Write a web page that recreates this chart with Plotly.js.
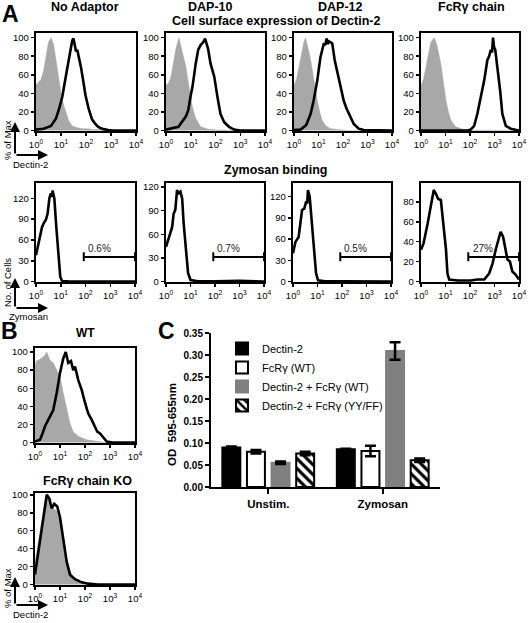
<!DOCTYPE html>
<html><head><meta charset="utf-8">
<script src="https://cdn.plot.ly/plotly-3.0.1.min.js"></script>
<style>body{margin:0;background:#fff;} #chart{width:528px;height:623px;}</style>
</head><body><div id="chart"></div>
<script>
// ---------- DATA (x in log10 units of fluorescence) ----------
var decadeTicks = [0, 1, 2, 3, 4];
var decadeLabels = ['10<sup>0</sup>', '10<sup>1</sup>', '10<sup>2</sup>', '10<sup>3</sup>', '10<sup>4</sup>'];

// Panel A, row 1: cell surface expression of Dectin-2 (% of Max)
var noAdGrayX = [0, 0.1, 0.2, 0.3, 0.4, 0.5, 0.6, 0.7, 0.8, 0.9, 1.0, 1.1, 1.2, 1.3, 1.45, 1.65, 1.85, 2.05, 2.3, 2.5, 2.7, 4];
var noAdGrayY = [49, 52, 55, 64, 80, 95, 100, 93, 76, 55, 40, 28, 18, 11, 5, 3, 2, 2, 1, 1, 0, 0];
var noAdBlackX = [0, 0.3, 0.6, 0.8, 0.92, 1.05, 1.19, 1.32, 1.4, 1.45, 1.5, 1.55, 1.6, 1.65, 1.72, 1.8, 1.88, 1.98, 2.1, 2.24, 2.35, 2.44, 2.55, 2.7, 2.9, 3.1, 4];
var noAdBlackY = [1, 2, 5, 13, 23, 36, 58, 79, 90, 97, 99, 92, 85, 87, 79, 68, 55, 38, 24, 12, 8, 5, 3, 1.5, 0.5, 0, 0];

var dap10GrayX = [0, 0.1, 0.2, 0.3, 0.4, 0.52, 0.6, 0.7, 0.8, 0.93, 1.07, 1.2, 1.4, 1.7, 2.1, 4];
var dap10GrayY = [49, 51, 58, 72, 88, 100, 92, 80, 69, 47, 25, 13, 4, 1.5, 0.5, 0];
var dap10BlackX = [0, 0.5, 0.8, 0.9, 1.0, 1.07, 1.2, 1.3, 1.4, 1.5, 1.58, 1.65, 1.7, 1.8, 1.95, 2.08, 2.2, 2.35, 2.55, 2.75, 3.0, 4];
var dap10BlackY = [1, 4, 15, 22, 38, 47, 72, 87, 92, 95, 99, 93, 88, 72, 58, 36, 18, 9, 4, 1, 0, 0];

var dap12GrayX = [0, 0.1, 0.2, 0.3, 0.4, 0.47, 0.55, 0.65, 0.75, 0.85, 0.95, 1.05, 1.15, 1.3, 1.5, 1.8, 2.2, 4];
var dap12GrayY = [49, 55, 68, 82, 95, 100, 92, 80, 65, 48, 32, 20, 11, 5, 2, 1, 0, 0];
var dap12BlackX = [0, 0.27, 0.5, 0.68, 0.8, 0.95, 1.08, 1.15, 1.22, 1.28, 1.33, 1.38, 1.42, 1.5, 1.56, 1.66, 1.75, 1.83, 1.93, 2.03, 2.14, 2.24, 2.34, 2.44, 2.64, 2.85, 4];
var dap12BlackY = [0.5, 1, 6, 18, 32, 54, 79, 88, 94, 92, 99, 93, 96, 95, 94, 76, 65, 54, 42, 32, 24, 18, 12, 7, 2, 0.5, 0];

var fcrGrayX = [0, 0.1, 0.2, 0.3, 0.4, 0.54, 0.65, 0.81, 0.92, 1.02, 1.12, 1.22, 1.42, 1.7, 2.0, 4];
var fcrGrayY = [49, 55, 68, 82, 95, 100, 92, 72, 50, 32, 20, 11, 4, 1.5, 0.5, 0];
var fcrBlackX = [0, 1.9, 2.03, 2.17, 2.3, 2.44, 2.58, 2.71, 2.78, 2.85, 2.9, 2.94, 2.98, 3.03, 3.12, 3.23, 3.32, 3.46, 3.66, 3.85, 4];
var fcrBlackY = [0, 0, 1, 5, 18, 36, 54, 76, 80, 87, 84, 100, 90, 87, 69, 43, 18, 5, 2, 0.5, 0];

// Panel A, row 2: zymosan binding (No. of Cells)
var zymNoAdX = [0, 0.1, 0.17, 0.24, 0.31, 0.4, 0.47, 0.54, 0.6, 0.64, 0.67, 0.74, 0.82, 0.91, 0.98, 1.05, 1.3, 2.0, 2.8, 3.1, 3.3, 4];
var zymNoAdY = [38, 55, 68, 78, 84, 89, 98, 120, 127, 122, 131, 120, 79, 31, 7, 1, 0.5, 0.3, 0.5, 1, 0.3, 0];
var zymDap10X = [0, 0.1, 0.25, 0.31, 0.38, 0.45, 0.52, 0.59, 0.66, 0.72, 0.82, 0.9, 1.0, 1.3, 2.0, 3.0, 4];
var zymDap10Y = [44, 53, 69, 86, 91, 116, 112, 114, 105, 74, 32, 11, 2, 0.5, 0.5, 1, 0];
var zymDap12X = [0, 0.1, 0.23, 0.3, 0.37, 0.46, 0.54, 0.58, 0.61, 0.68, 0.75, 0.84, 0.94, 1.02, 1.3, 2.0, 3.0, 4];
var zymDap12Y = [40, 56, 63, 80, 101, 103, 113, 110, 129, 120, 92, 45, 12, 2, 0.5, 0.5, 0.5, 0];
var zymFcrX = [0, 0.1, 0.27, 0.4, 0.48, 0.52, 0.61, 0.7, 0.81, 0.92, 1.02, 1.08, 1.15, 1.5, 2.03, 2.3, 2.58, 2.78, 2.92, 3.05, 3.16, 3.25, 3.35, 3.43, 3.53, 3.63, 3.73, 3.86, 4];
var zymFcrY = [32, 38, 58, 78, 88, 92, 88, 83, 82, 58, 32, 8, 2, 1, 1, 2, 2, 8, 18, 32, 43, 50, 45, 35, 22, 20, 10, 7, 2];
var gateLabels = ['0.6%', '0.7%', '0.5%', '27%'];

// Panel B
var wtGrayX = [0, 0.05, 0.2, 0.35, 0.47, 0.6, 0.73, 0.87, 1.0, 1.13, 1.27, 1.4, 1.53, 1.73, 2.07, 2.47, 2.8, 4];
var wtGrayY = [84, 90, 92, 95, 100, 91, 88, 80, 73, 55, 36, 21, 12, 7, 3, 1, 0, 0];
var wtBlackX = [0, 0.2, 0.3, 0.4, 0.53, 0.73, 0.87, 1.0, 1.13, 1.23, 1.33, 1.44, 1.53, 1.6, 1.73, 1.87, 2.0, 2.13, 2.27, 2.4, 2.49, 2.6, 2.73, 2.87, 3.1, 4];
var wtBlackY = [1, 3, 10, 18, 25, 36, 55, 77, 93, 100, 88, 90, 80, 84, 69, 58, 44, 32, 25, 18, 12, 10, 5, 1, 0, 0];
var koGrayX = [0, 0.13, 0.27, 0.4, 0.47, 0.6, 0.73, 0.87, 1.0, 1.13, 1.27, 1.4, 1.53, 1.8, 2.2, 4];
var koGrayY = [25, 45, 70, 92, 99, 92, 85, 82, 71, 50, 29, 15, 8, 2.5, 0.5, 0];
var koBlackX = [0, 0.13, 0.27, 0.4, 0.47, 0.57, 0.67, 0.77, 0.89, 1.0, 1.13, 1.27, 1.4, 1.6, 1.87, 2.13, 2.5, 4];
var koBlackY = [11, 36, 64, 92, 100, 96, 85, 90, 87, 75, 50, 25, 11, 6, 2.5, 1, 0, 0];

// Panel C: OD 595-655nm
var cCategories = ['Unstim.', 'Zymosan'];
var cSeriesNames = ['Dectin-2', 'FcR\u03b3 (WT)', 'Dectin-2 + FcR\u03b3 (WT)', 'Dectin-2 + FcR\u03b3 (YY/FF)'];
var dectin2 = [0.090, 0.086];
var dectin2Err = [0.002, 0.001];
var fcrWT = [0.080, 0.082];
var fcrWTErr = [0.004, 0.012];
var dectinFcrWT = [0.055, 0.309];
var dectinFcrWTErr = [0.003, 0.020];
var dectinFcrYYFF = [0.076, 0.061];
var dectinFcrYYFFErr = [0.004, 0.004];

// ---------- LAYOUT HELPERS ----------
var W = 528, H = 623;
function dx(a, b) { return [a / W, b / W]; }
function dy(t, b) { return [1 - b / H, 1 - t / H]; }
function px(x) { return x / W; }
function py(y) { return 1 - y / H; }
var FONT = 'Liberation Sans, Arial, sans-serif';
var GRAY = '#a8a8a8';

var boxes = [
  {x: [36, 136], y: [33, 131], yr: [-0.5, 105], yt: [0, 20, 40, 60, 80, 100]},
  {x: [166, 265], y: [33, 131], yr: [-0.5, 105], yt: [0, 20, 40, 60, 80, 100]},
  {x: [294, 392], y: [33, 131], yr: [-0.5, 105], yt: [0, 20, 40, 60, 80, 100]},
  {x: [421, 519], y: [33, 131], yr: [-0.5, 105], yt: [0, 20, 40, 60, 80, 100]},
  {x: [36, 135], y: [183, 282], yr: [-0.5, 142], yt: [0, 30, 60, 90, 120]},
  {x: [166, 264], y: [183, 282], yr: [-0.5, 125], yt: [0, 30, 60, 90, 120]},
  {x: [293, 391], y: [183, 282], yr: [-0.5, 139], yt: [0, 30, 60, 90, 120]},
  {x: [421, 519], y: [183, 282], yr: [-0.5, 99], yt: [0, 20, 40, 60, 80]},
  {x: [35, 135], y: [348, 443], yr: [-0.5, 104.5], yt: [0, 20, 40, 60, 80, 100]},
  {x: [35, 135], y: [493, 585], yr: [-0.5, 102], yt: [0, 20, 40, 60, 80, 100]}
];

var panels = [
  [noAdGrayX, noAdGrayY, noAdBlackX, noAdBlackY],
  [dap10GrayX, dap10GrayY, dap10BlackX, dap10BlackY],
  [dap12GrayX, dap12GrayY, dap12BlackX, dap12BlackY],
  [fcrGrayX, fcrGrayY, fcrBlackX, fcrBlackY],
  [null, null, zymNoAdX, zymNoAdY],
  [null, null, zymDap10X, zymDap10Y],
  [null, null, zymDap12X, zymDap12Y],
  [null, null, zymFcrX, zymFcrY],
  [wtGrayX, wtGrayY, wtBlackX, wtBlackY],
  [koGrayX, koGrayY, koBlackX, koBlackY]
];

var data = [];
var layout = {
  width: W, height: H,
  margin: {l: 0, r: 0, t: 0, b: 0},
  paper_bgcolor: '#fff', plot_bgcolor: 'rgba(0,0,0,0)',
  font: {family: FONT, color: '#000', size: 10},
  showlegend: true,
  annotations: [], shapes: []
};

panels.forEach(function (p, i) {
  var n = i + 1;
  var xa = 'x' + (n === 1 ? '' : n), ya = 'y' + (n === 1 ? '' : n);
  if (p[0]) {
    data.push({type: 'scatter', mode: 'lines', x: p[0], y: p[1], xaxis: xa, yaxis: ya,
      fill: 'tozeroy', fillcolor: GRAY, line: {color: GRAY, width: 0.5}, showlegend: false, hoverinfo: 'skip'});
  }
  data.push({type: 'scatter', mode: 'lines', x: p[2], y: p[3], xaxis: xa, yaxis: ya,
    line: {color: '#000', width: 2.6}, showlegend: false, hoverinfo: 'skip'});
  var b = boxes[i];
  layout['xaxis' + (n === 1 ? '' : n)] = {
    domain: dx(b.x[0], b.x[1]), anchor: ya, range: [0, 4], tickvals: decadeTicks, ticktext: decadeLabels,
    showline: true, mirror: true, linecolor: '#000', linewidth: 2.2, showgrid: false, zeroline: false,
    ticks: 'outside', ticklen: 3, tickwidth: 1.5, tickcolor: '#000', tickfont: {size: 9.5, family: FONT}
  };
  layout['yaxis' + (n === 1 ? '' : n)] = {
    domain: dy(b.y[0], b.y[1]), anchor: xa, range: b.yr, tickvals: b.yt,
    showline: true, mirror: true, linecolor: '#000', linewidth: 2.2, showgrid: false, zeroline: false,
    ticks: 'outside', ticklen: 3, tickwidth: 1.5, tickcolor: '#000', tickfont: {size: 9.5, family: FONT}
  };
});

// gates on zymosan panels
for (var g = 0; g < 4; g++) {
  var n = 5 + g;
  var xr = 'x' + n, yr = 'y' + n + ' domain';
  layout.shapes.push({type: 'line', xref: xr, yref: yr, x0: 1.93, x1: 4, y0: 0.253, y1: 0.253, line: {color: '#000', width: 2}});
  layout.shapes.push({type: 'line', xref: xr, yref: yr, x0: 1.93, x1: 1.93, y0: 0.21, y1: 0.30, line: {color: '#000', width: 2}});
  layout.shapes.push({type: 'line', xref: xr, yref: yr, x0: 4, x1: 4, y0: 0.21, y1: 0.30, line: {color: '#000', width: 2}});
  layout.annotations.push({xref: xr, yref: yr, x: 2.55, y: 0.335, text: gateLabels[g], showarrow: false,
    font: {size: 10, family: FONT, color: '#222222'}, xanchor: 'center', yanchor: 'middle'});
}

// ---------- Panel C bars ----------
var barColors = ['#000', '#fff', '#808080', '#fff'];
var barLines = ['#000', '#000', '#808080', '#000'];
var barVals = [dectin2, fcrWT, dectinFcrWT, dectinFcrYYFF];
var barErrs = [dectin2Err, fcrWTErr, dectinFcrWTErr, dectinFcrYYFFErr];
for (var s = 0; s < 4; s++) {
  var m = {color: barColors[s], line: {color: barLines[s], width: 2}};
  if (s === 3) m.pattern = {shape: '\\', fgcolor: '#000', bgcolor: '#fff', size: 7, solidity: 0.45};
  data.push({type: 'bar', name: cSeriesNames[s], x: cCategories, y: barVals[s], xaxis: 'x11', yaxis: 'y11',
    marker: m, error_y: {type: 'data', array: barErrs[s], visible: true, color: '#000', thickness: 2.5, width: 5.5},
    hoverinfo: 'skip'});
}
layout.barmode = 'group';
layout.bargap = 0.14;
layout.bargroupgap = 0.27;
layout.xaxis11 = {domain: dx(211, 440), anchor: 'y11', range: [-0.5, 1.5], showline: true, linecolor: '#000', linewidth: 2,
  ticks: 'outside', ticklen: 5, tickwidth: 2, tickcolor: '#000', showgrid: false, zeroline: false,
  tickfont: {size: 11.5, family: FONT, weight: 'bold'}};
layout.yaxis11 = {domain: dy(333, 487), anchor: 'x11', range: [0, 0.35], dtick: 0.05, tickformat: '.2f',
  showline: true, linecolor: '#000', linewidth: 2, ticks: 'outside', ticklen: 4, tickwidth: 2, tickcolor: '#000',
  showgrid: false, zeroline: false, tickfont: {size: 10, family: FONT, weight: 'bold'}};
layout.legend = {x: px(222), y: py(334), xanchor: 'left', yanchor: 'top', bgcolor: 'rgba(0,0,0,0)',
  font: {size: 11, family: FONT}, traceorder: 'normal', itemwidth: 30, tracegroupgap: 0};

// ---------- text annotations ----------
function txt(x, y, t, size, bold, angle) {
  layout.annotations.push({xref: 'paper', yref: 'paper', x: px(x), y: py(y), text: t, showarrow: false,
    xanchor: 'center', yanchor: 'middle', textangle: angle || 0,
    font: {size: size, family: FONT, color: '#000', weight: bold ? 'bold' : 'normal'}});
}
txt(10, 14, 'A', 23, true);
txt(85, 7, 'No Adaptor', 12.5, true);
txt(210, 7, 'DAP-10', 12.5, true);
txt(340, 7, 'DAP-12', 12.5, true);
txt(471, 7, 'FcR\u03b3 chain', 12.5, true);
txt(276, 21, 'Cell surface expression of Dectin-2', 12.5, true);
txt(275, 170, 'Zymosan binding', 12.5, true);
txt(9, 331, 'B', 23, true);
txt(85, 333, 'WT', 12, true);
txt(87, 481, 'FcR\u03b3 chain KO', 12.5, true);
txt(166, 331, 'C', 23, true);
txt(172, 425, 'OD  595-655nm', 11.5, true, -90);

// axis-direction arrows with labels
function arrows(cx, cy, up, right) {
  layout.annotations.push({xref: 'paper', yref: 'paper', x: px(cx), y: py(cy - up), ax: 0, ay: up, text: '',
    showarrow: true, arrowhead: 2, arrowsize: 1, arrowwidth: 2, arrowcolor: '#000'});
  layout.annotations.push({xref: 'paper', yref: 'paper', x: px(cx + right), y: py(cy), ax: -right, ay: 0, text: '',
    showarrow: true, arrowhead: 2, arrowsize: 1, arrowwidth: 2, arrowcolor: '#000'});
}
arrows(15, 155, 33, 33);
txt(7, 140, '% of Max', 9.5, false, -90);
txt(30, 164, 'Dectin-2', 9.5, false);
arrows(15, 308, 30, 33);
txt(7, 283, 'No. of Cells', 9.5, false, -90);
txt(28, 316, 'Zymosan', 9.5, false);
arrows(15, 605, 28, 33);
txt(7, 588, '% of Max', 9.5, false, -90);
txt(30, 614, 'Dectin-2', 9.5, false);

Plotly.newPlot('chart', data, layout, {staticPlot: true, displayModeBar: false});
</script></body></html>
